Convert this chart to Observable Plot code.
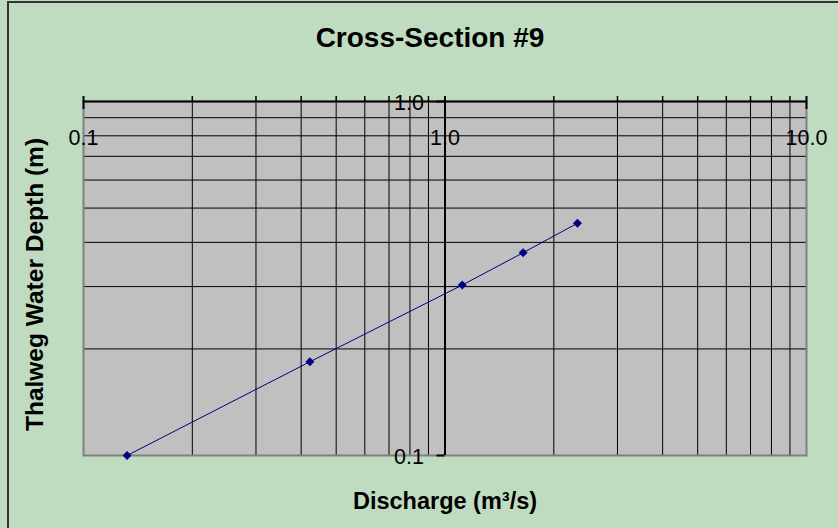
<!DOCTYPE html>
<html>
<head>
<meta charset="utf-8">
<script src="https://cdn.jsdelivr.net/npm/d3@7"></script>
<script src="https://cdn.jsdelivr.net/npm/@observablehq/plot@0.6"></script>
<style>
  html, body { margin: 0; padding: 0; background: #C0DCC0; overflow: hidden; }
  #wrap { position: relative; width: 838px; height: 528px; background: #C0DCC0; }
  #border { position: absolute; left: 7px; top: 1px; right: -10px; bottom: -10px;
            border-left: 2px solid #333; border-top: 2px solid #333; pointer-events: none; }
  svg { display: block; }
</style>
</head>
<body>
<div id="wrap"><div id="border"></div></div>
<script>
// Data
const discharge = [0.132, 0.423, 1.116, 1.645, 2.325];   // m^3/s
const depth     = [0.100, 0.184, 0.303, 0.374, 0.453];   // m

// Axis ticks / labels
const xMinorTicks = [0.2,0.3,0.4,0.5,0.6,0.7,0.8,0.9,2,3,4,5,6,7,8,9];
const xGridValues = [0.2,0.3,0.4,0.5,0.6,0.7,0.8,0.9,2,3,4,5,6,7,8,9];
const xMajorTicks = [0.1, 10];
const xLabelValues = [0.1, 1, 10];
const xLabelTexts  = ["0.1", "1.0", "10.0"];
const yGridValues = [0.2,0.3,0.4,0.5,0.6,0.7,0.8,0.9];
const yLabelValues = [0.1, 1];
const yLabelTexts  = ["0.1", "1.0"];

const title = "Cross-Section #9";
const xTitle = "Discharge (m³/s)";
const yTitle = "Thalweg Water Depth (m)";

const pts = discharge.map((q, i) => ({q, d: depth[i]}));
const xLabels = xLabelValues.map((v, i) => ({v, t: xLabelTexts[i]}));
const yLabels = yLabelValues.map((v, i) => ({v, t: yLabelTexts[i]}));

const font = "Arial, 'Liberation Sans', sans-serif";

const chart = Plot.plot({
  width: 838,
  height: 528,
  marginLeft: 83,
  marginRight: 32,
  marginTop: 101,
  marginBottom: 73,
  style: { background: "transparent", fontFamily: font, overflow: "visible" },
  x: { type: "log", domain: [0.1, 10], axis: null },
  y: { type: "log", domain: [0.1, 1], axis: null },
  marks: [
    Plot.frame({ fill: "#C0C0C0", stroke: null }),
    Plot.ruleX(xGridValues, { stroke: "black", strokeWidth: 1 }),
    Plot.ruleY(yGridValues, { stroke: "black", strokeWidth: 1 }),
    Plot.frame({ stroke: "#808080", strokeWidth: 2 }),
    // vertical value axis crossing at x = 1
    Plot.ruleX([1], { stroke: "black", strokeWidth: 2 }),
    // horizontal axis crossing at y = 1 (top)
    Plot.ruleY([1], { stroke: "black", strokeWidth: 2 }),
    // minor ticks on the top axis (upward)
    Plot.ruleX(xMinorTicks, { y1: () => 1, y2: () => 1, insetTop: -5, stroke: "black", strokeWidth: 1.5 }),
    // tick at 1.0 on top axis
    Plot.ruleX([1], { y1: () => 1, y2: () => 1, insetTop: -5, stroke: "black", strokeWidth: 2 }),
    // major ticks crossing the top axis
    Plot.ruleX(xMajorTicks, { y1: () => 1, y2: () => 1, insetTop: -5, insetBottom: -8, stroke: "black", strokeWidth: 2 }),
    // y-axis ticks (to the left)
    Plot.ruleY(yLabelValues, { x1: () => 1, x2: () => 1, insetLeft: -8, stroke: "black", strokeWidth: 2 }),
    // tick labels
    Plot.text(xLabels, { x: "v", y: () => 1, text: "t", dy: 37, fontSize: 21.5, fill: "black" }),
    Plot.text(yLabels, { x: () => 1, y: "v", text: "t", textAnchor: "end", dx: -21, dy: 2, fontSize: 21.5, fill: "black" }),
    // data
    Plot.line(pts, { x: "q", y: "d", stroke: "#000080", strokeWidth: 1 }),
    Plot.dot(pts, { x: "q", y: "d", symbol: "diamond2", r: 3.8, fill: "#000080", stroke: "#000080", strokeWidth: 0.5 }),
    // titles
    Plot.text([title], { frameAnchor: "top", text: d => d, dx: -15, dy: -55, lineAnchor: "bottom", fontSize: 28, fontWeight: "bold", fill: "black" }),
    Plot.text([xTitle], { frameAnchor: "bottom", text: d => d, dy: 53, lineAnchor: "bottom", fontSize: 23.5, fontWeight: "bold", fill: "black" }),
    Plot.text([yTitle], { frameAnchor: "left", text: d => d, rotate: -90, textAnchor: "middle", dx: -41, dy: 6, lineAnchor: "bottom", fontSize: 24.5, fontWeight: "bold", fill: "black" })
  ]
});

document.getElementById("wrap").appendChild(chart);
</script>
</body>
</html>
